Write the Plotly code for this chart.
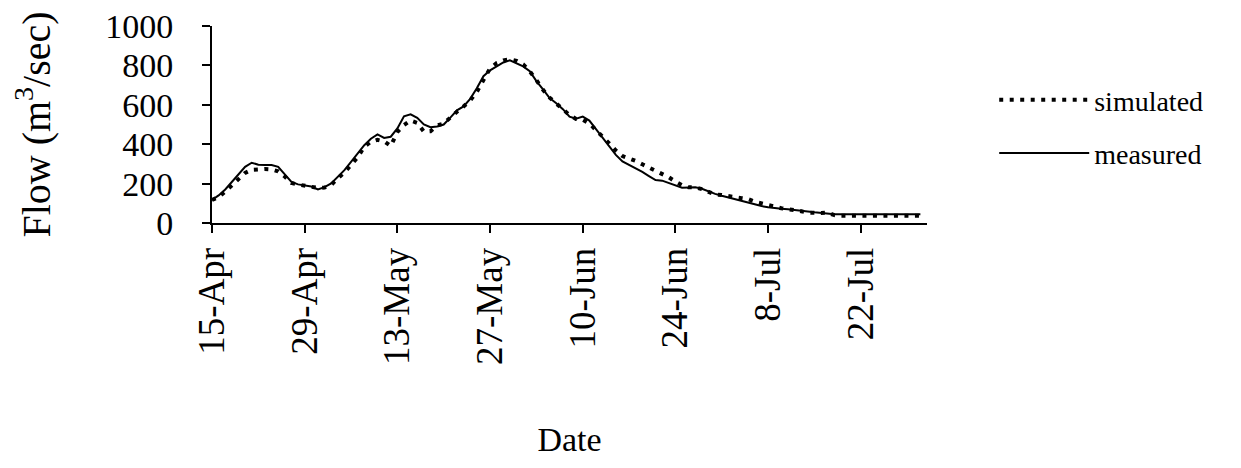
import pandas as pd
import plotly.graph_objects as go

start_date = "2001-04-15"
n_days = 108
dates = pd.date_range(start_date, periods=n_days, freq="D")

measured = [
    117, 140, 170, 210, 245, 285, 306, 296, 294, 294,
    285, 245, 208, 196, 192, 185, 170, 182, 201, 232,
    268, 310, 352, 395, 428, 450, 432, 438, 480, 542,
    552, 534, 500, 486, 490, 500, 535, 572, 592, 630,
    684, 745, 775, 793, 815, 826, 810, 795, 770, 720,
    678, 634, 608, 578, 540, 530, 540, 520, 476, 433,
    390, 346, 313, 296, 279, 259, 238, 218, 215, 203,
    191, 179, 180, 181, 174, 160, 148, 138, 129, 121,
    111, 101, 93, 86, 80, 75, 72, 70, 67, 63,
    58, 54, 50, 46, 45, 45, 45, 45, 45, 45,
    45, 45, 45, 45, 45, 45, 45, 45,
]

simulated = [
    117, 132, 160, 192, 223, 254, 270, 274, 274, 272,
    262, 236, 203, 195, 191, 186, 178, 180, 193, 227,
    257, 295, 334, 387, 412, 422, 414, 391, 462, 497,
    520, 508, 464, 466, 495, 505, 538, 565, 591, 622,
    666, 730, 785, 812, 825, 831, 823, 805, 770, 725,
    676, 636, 608, 580, 548, 528, 524, 505, 474, 438,
    404, 368, 340, 329, 315, 298, 281, 266, 250, 232,
    210, 192, 181, 181, 172, 157, 144, 142, 139, 131,
    126, 121, 108, 99, 91, 82, 75, 70, 67, 60,
    52, 49, 51, 52, 40, 37, 37, 37, 37, 37,
    37, 37, 37, 37, 37, 37, 37, 37,
]

tick_dates = pd.date_range(start_date, periods=8, freq="14D")
tick_labels = ["15-Apr", "29-Apr", "13-May", "27-May", "10-Jun", "24-Jun", "8-Jul", "22-Jul"]
y_ticks = [0, 200, 400, 600, 800, 1000]

FONT = "Liberation Serif, Times New Roman, serif"

fig = go.Figure()
fig.add_trace(go.Scatter(x=dates, y=simulated, mode="lines", name="simulated",
                         legendgroup="sim",
                         line=dict(color="black", width=4, dash="4px,6.5px")))
fig.add_trace(go.Scatter(x=dates, y=measured, mode="lines", name="measured",
                         legendgroup="meas",
                         line=dict(color="black", width=2)))

# the html page adds an 8px body margin, so the figure is a bit smaller
fig.update_layout(
    width=1233, height=460,
    paper_bgcolor="white", plot_bgcolor="white",
    margin=dict(l=204, r=314, t=18, b=245, autoexpand=False),
    font=dict(family=FONT, color="black", size=31),
    legend=dict(x=1.094, y=0.49, xanchor="left", yanchor="middle",
                font=dict(size=28), itemwidth=90, tracegroupgap=14,
                bgcolor="rgba(0,0,0,0)"),
)
fig.update_xaxes(
    range=[pd.Timestamp(start_date), pd.Timestamp("2001-08-01")],
    tickvals=tick_dates, ticktext=tick_labels, tickangle=-90,
    showgrid=False, zeroline=False, showline=True, linecolor="black", linewidth=2,
    ticks="outside", ticklen=8, tickwidth=2, tickcolor="black",
    tickfont=dict(size=37), ticklabelstandoff=0, ticklabeloverflow="allow",
    title=dict(text="Date", font=dict(size=34), standoff=63),
)
fig.update_yaxes(
    range=[0, 1000], tickvals=y_ticks,
    showgrid=False, zeroline=False, showline=True, linecolor="black", linewidth=2,
    ticks="outside", ticklen=8, tickwidth=2, tickcolor="black",
    tickfont=dict(size=34), ticklabelstandoff=22, ticklabeloverflow="allow",
    title=dict(text="Flow (m<sup>3</sup>/sec)", font=dict(size=40), standoff=58),
)

fig.write_html("out.html")
